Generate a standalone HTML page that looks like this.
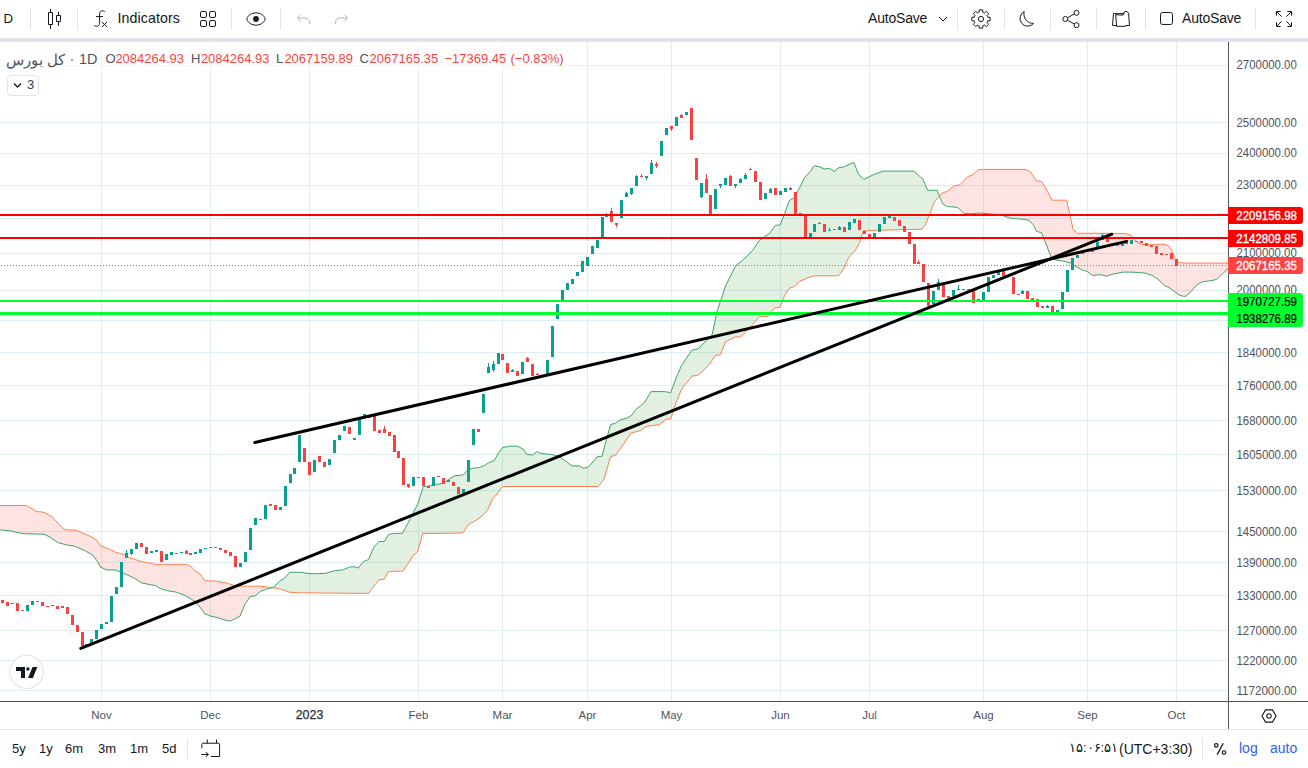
<!DOCTYPE html>
<html><head><meta charset="utf-8"><title>Chart</title>
<style>
html,body{margin:0;padding:0;background:#fff;}
body{width:1308px;height:768px;position:relative;overflow:hidden;font-family:"Liberation Sans",sans-serif;color:#131722;}
.t{position:absolute;white-space:nowrap;line-height:1;}
</style></head><body>
<svg width="1308" height="768" viewBox="0 0 1308 768" style="position:absolute;left:0;top:0">
<defs><clipPath id="pane"><rect x="0" y="42" width="1228" height="659"/></clipPath></defs>
<g clip-path="url(#pane)">
<rect x="0" y="65" width="1228" height="1" fill="#dfedf2"/>
<rect x="0" y="122" width="1228" height="1" fill="#dfedf2"/>
<rect x="0" y="153" width="1228" height="1" fill="#dfedf2"/>
<rect x="0" y="185" width="1228" height="1" fill="#dfedf2"/>
<rect x="0" y="218" width="1228" height="1" fill="#dfedf2"/>
<rect x="0" y="253" width="1228" height="1" fill="#dfedf2"/>
<rect x="0" y="290" width="1228" height="1" fill="#dfedf2"/>
<rect x="0" y="320" width="1228" height="1" fill="#dfedf2"/>
<rect x="0" y="352" width="1228" height="1" fill="#dfedf2"/>
<rect x="0" y="385" width="1228" height="1" fill="#dfedf2"/>
<rect x="0" y="420" width="1228" height="1" fill="#dfedf2"/>
<rect x="0" y="454" width="1228" height="1" fill="#dfedf2"/>
<rect x="0" y="490" width="1228" height="1" fill="#dfedf2"/>
<rect x="0" y="531" width="1228" height="1" fill="#dfedf2"/>
<rect x="0" y="562" width="1228" height="1" fill="#dfedf2"/>
<rect x="0" y="595" width="1228" height="1" fill="#dfedf2"/>
<rect x="0" y="630" width="1228" height="1" fill="#dfedf2"/>
<rect x="0" y="660" width="1228" height="1" fill="#dfedf2"/>
<rect x="0" y="690" width="1228" height="1" fill="#dfedf2"/>
<rect x="101" y="42" width="1" height="659" fill="#dfedf2"/>
<rect x="210" y="42" width="1" height="659" fill="#dfedf2"/>
<rect x="309" y="42" width="1" height="659" fill="#dfedf2"/>
<rect x="418" y="42" width="1" height="659" fill="#dfedf2"/>
<rect x="502" y="42" width="1" height="659" fill="#dfedf2"/>
<rect x="587" y="42" width="1" height="659" fill="#dfedf2"/>
<rect x="671" y="42" width="1" height="659" fill="#dfedf2"/>
<rect x="780" y="42" width="1" height="659" fill="#dfedf2"/>
<rect x="869" y="42" width="1" height="659" fill="#dfedf2"/>
<rect x="983" y="42" width="1" height="659" fill="#dfedf2"/>
<rect x="1087" y="42" width="1" height="659" fill="#dfedf2"/>
<rect x="1176" y="42" width="1" height="659" fill="#dfedf2"/>
<g opacity="1"><polygon points="0.0,529.8 11.0,531.0 22.1,533.6 26.5,533.7 36.5,534.0 44.2,534.2 50.9,537.6 53.0,539.1 57.5,542.4 63.0,543.9 66.4,544.9 75.2,546.4 76.3,546.9 84.0,550.2 93.0,555.3 97.3,561.3 98.5,563.0 100.0,566.7 106.1,569.8 110.7,570.0 115.3,570.1 119.9,571.7 125.2,574.0 126.0,574.3 129.8,576.1 135.0,578.5 135.2,578.6 140.5,582.2 141.6,582.9 150.4,584.7 155.0,585.5 155.5,585.6 161.1,588.9 167.7,590.7 176.5,592.2 184.3,595.1 186.4,596.3 190.2,598.4 190.9,598.8 194.8,601.6 196.5,602.8 200.0,607.3 200.9,608.4 204.9,613.9 210.8,616.1 216.4,617.4 218.6,617.9 225.2,620.1 226.3,620.4 229.6,621.2 234.1,619.3 234.7,619.0 240.0,616.1 242.9,609.2 245.1,603.9 250.2,596.6 255.1,595.8 260.6,591.3 266.2,589.1 272.5,587.6 272.5,587.6 266.2,586.9 260.6,586.2 255.1,586.2 250.2,586.2 245.1,586.2 242.9,586.2 240.0,586.0 234.7,585.6 234.1,585.6 229.6,584.0 226.3,582.9 225.2,582.7 218.6,581.6 216.4,581.2 210.8,581.0 204.9,580.7 200.9,575.2 200.0,574.0 196.5,571.6 194.8,570.5 190.9,566.6 190.2,565.9 186.4,564.4 184.3,564.4 176.5,564.4 167.7,564.3 161.1,564.3 155.5,564.3 155.0,564.3 150.4,563.3 141.6,561.5 140.5,561.3 135.2,559.4 135.0,559.3 129.8,557.9 126.0,555.3 125.2,554.8 119.9,553.4 115.3,552.2 110.7,549.5 106.1,547.9 100.0,545.7 98.5,543.0 97.3,540.9 93.0,537.6 84.0,533.6 76.3,530.3 75.2,530.2 66.4,529.8 63.0,528.7 57.5,522.7 53.0,517.7 50.9,516.4 44.2,512.3 36.5,511.5 26.5,505.5 22.1,505.5 11.0,505.5 0.0,505.5" fill="rgba(244,67,54,0.15)"/>
<polygon points="272.5,587.6 273.9,587.3 279.4,581.2 282.7,579.5 283.8,578.9 289.4,572.7 289.8,572.3 300.4,572.3 310.0,573.6 313.9,573.8 325.6,573.3 334.7,570.7 342.5,569.9 350.4,566.8 354.3,566.8 358.2,568.1 363.4,561.6 368.6,559.5 373.8,547.2 379.0,541.5 384.2,541.5 388.1,535.4 388.9,534.2 394.7,533.4 402.5,533.4 407.7,523.5 410.3,518.6 412.9,513.5 417.6,504.2 422.8,488.3 423.3,486.8 428.5,486.0 436.4,484.7 440.0,483.9 443.7,483.2 449.1,479.1 454.6,475.8 462.8,475.0 468.3,469.5 473.8,468.1 475.1,468.0 479.2,467.6 482.0,466.5 484.7,465.4 487.4,463.6 488.8,462.7 492.9,461.1 494.3,460.5 497.0,455.6 498.4,453.1 502.5,447.6 509.3,446.2 517.5,446.2 523.0,449.0 527.1,454.5 532.6,455.0 536.7,451.7 540.8,453.1 544.9,453.9 551.7,454.5 558.6,456.4 564.0,459.9 572.2,465.9 579.1,465.9 583.2,468.1 587.3,467.6 590.0,465.4 596.9,456.9 598.0,456.7 602.0,456.2 603.7,449.9 610.5,424.7 615.5,423.0 620.6,419.7 624.0,418.9 627.4,418.0 630.8,415.7 632.5,414.6 635.8,409.5 640.9,405.4 644.3,402.7 646.0,399.9 651.1,391.6 659.5,391.6 664.6,391.6 666.3,391.9 670.7,392.6 674.8,381.7 676.4,377.4 681.5,365.5 691.7,350.3 698.4,348.6 706.9,340.1 708.6,338.4 712.0,335.1 715.4,319.3 717.1,311.4 720.4,301.4 725.5,286.0 735.7,265.7 740.7,261.9 742.4,260.6 745.8,257.2 750.9,252.2 752.6,250.5 759.4,240.3 765.0,236.5 767.8,234.6 769.5,233.5 774.6,226.5 775.5,225.3 780.0,225.0 780.2,225.0 784.7,213.3 789.4,200.4 794.1,198.0 798.7,189.5 799.9,187.2 800.0,187.0 804.3,178.0 808.1,174.0 810.4,171.5 813.5,166.3 814.0,166.0 814.5,165.7 819.5,166.8 824.2,169.0 829.3,168.2 834.0,171.3 838.6,167.9 839.0,167.6 843.3,167.1 849.1,164.4 853.8,162.2 855.0,165.4 858.5,174.6 859.7,175.6 863.2,178.7 863.9,179.3 873.7,174.6 883.1,171.1 913.6,171.1 921.8,178.3 923.0,179.3 925.3,184.8 927.6,190.3 930.0,190.3 934.7,190.3 937.0,190.3 939.4,196.1 939.4,196.1 937.0,198.9 934.7,201.6 930.0,213.3 927.6,219.3 925.3,225.0 923.0,227.8 921.8,229.2 913.6,229.4 883.1,230.2 873.7,230.4 863.9,230.9 863.2,230.9 859.7,242.6 858.5,244.7 855.0,250.8 853.8,252.0 849.1,256.6 843.3,269.5 839.0,275.3 838.6,275.8 834.0,275.8 829.3,275.8 824.2,275.8 819.5,275.8 814.5,275.8 814.0,275.8 813.5,276.0 810.4,277.0 808.1,277.7 804.3,279.3 800.0,281.2 799.9,281.2 798.7,282.3 794.1,286.6 789.4,288.3 784.7,295.3 780.2,306.8 780.0,307.3 775.5,307.9 774.6,308.0 769.5,314.3 767.8,316.4 765.0,316.4 759.4,316.4 752.6,324.6 750.9,326.6 745.8,331.7 742.4,335.1 740.7,336.8 735.7,336.8 725.5,341.8 720.4,354.7 717.1,355.2 715.4,355.4 712.0,360.4 708.6,365.5 706.9,367.1 698.4,375.0 691.7,376.3 681.5,389.2 676.4,402.1 674.8,406.1 670.7,419.0 666.3,419.0 664.6,420.4 659.5,424.7 651.1,425.8 646.0,426.4 644.3,427.8 640.9,430.5 635.8,431.9 632.5,432.7 630.8,433.2 627.4,438.3 624.0,443.4 620.6,448.1 615.5,455.2 610.5,456.9 603.7,479.9 602.0,481.9 598.0,486.5 596.9,486.5 590.0,486.5 587.3,486.5 583.2,486.5 579.1,486.5 572.2,486.5 564.0,486.5 558.6,486.5 551.7,486.5 544.9,486.5 540.8,486.5 536.7,486.5 532.6,486.5 527.1,486.5 523.0,486.5 517.5,486.5 509.3,486.5 502.5,486.5 498.4,492.2 497.0,494.1 494.3,496.8 492.9,498.2 488.8,507.4 487.4,510.5 484.7,513.2 482.0,516.0 479.2,518.0 475.1,520.9 473.8,521.6 468.3,524.7 462.8,533.0 454.6,533.1 449.1,533.2 443.7,533.3 440.0,533.4 436.4,533.4 428.5,533.4 423.3,533.4 422.8,533.4 417.6,551.7 412.9,555.8 410.3,560.0 407.7,564.2 402.5,571.2 394.7,571.2 388.9,571.9 388.1,572.0 384.2,579.3 379.0,579.8 373.8,586.3 368.6,593.4 363.4,593.4 358.2,593.3 354.3,593.3 350.4,593.2 342.5,593.2 334.7,593.1 325.6,593.0 313.9,592.9 310.0,592.9 300.4,592.9 289.8,592.2 289.4,592.2 283.8,590.0 282.7,589.6 279.4,588.9 273.9,587.8 272.5,587.6" fill="rgba(67,160,71,0.16)"/>
<polygon points="939.4,196.1 941.7,201.5 942.7,203.9 947.5,206.6 947.6,206.6 953.4,206.9 955.0,207.0 958.5,208.0 960.0,209.5 962.0,211.5 963.5,213.1 967.7,213.5 970.8,213.8 972.9,213.6 978.1,213.2 979.2,213.1 983.3,213.4 989.6,213.8 1002.1,215.2 1010.4,218.3 1020.8,219.0 1025.0,219.6 1028.1,220.0 1030.2,221.9 1033.3,224.6 1036.5,231.3 1041.7,232.9 1045.8,243.3 1046.9,246.2 1051.0,256.9 1052.1,257.8 1054.2,259.6 1062.5,261.0 1066.7,262.1 1069.8,262.8 1070.8,263.1 1072.9,264.5 1077.1,267.3 1083.3,270.4 1087.5,271.5 1092.7,275.6 1100.0,274.6 1107.0,276.2 1111.1,274.5 1116.9,273.3 1122.8,272.1 1125.1,272.1 1129.8,272.1 1131.0,272.1 1132.2,272.2 1134.5,272.3 1138.0,272.4 1139.2,272.5 1141.5,272.8 1146.2,273.3 1147.4,273.8 1152.1,275.5 1153.3,276.0 1156.8,278.4 1157.9,279.2 1163.8,285.0 1168.5,287.3 1169.7,287.9 1171.4,289.2 1173.2,290.6 1174.3,291.5 1174.9,291.9 1177.3,293.7 1179.0,295.0 1181.4,295.7 1183.7,296.4 1186.1,296.1 1187.2,295.1 1190.8,291.7 1196.6,285.0 1201.3,282.1 1207.2,281.2 1214.2,280.1 1217.7,278.6 1222.4,273.9 1228.0,268.8 1228.0,263.1 1222.4,263.1 1217.7,263.1 1214.2,263.1 1207.2,263.1 1201.3,263.1 1196.6,263.1 1190.8,263.1 1187.2,263.1 1186.1,263.0 1183.7,262.9 1181.4,262.8 1179.0,262.1 1177.3,261.6 1174.9,258.7 1174.3,257.0 1173.2,254.0 1171.4,249.3 1169.7,247.2 1168.5,245.8 1163.8,244.3 1157.9,244.3 1156.8,244.3 1153.3,244.7 1152.1,244.8 1147.4,244.6 1146.2,244.5 1141.5,244.3 1139.2,243.3 1138.0,242.8 1134.5,239.9 1132.2,236.4 1131.0,235.7 1129.8,235.0 1125.1,233.5 1122.8,233.5 1116.9,233.4 1111.1,233.4 1107.0,233.4 1100.0,233.3 1092.7,233.3 1087.5,233.3 1083.3,233.3 1077.1,233.3 1072.9,228.8 1070.8,218.9 1069.8,214.2 1066.7,200.2 1062.5,200.2 1054.2,200.2 1052.1,200.2 1051.0,198.1 1046.9,190.2 1045.8,188.4 1041.7,181.5 1036.5,180.8 1033.3,176.1 1030.2,171.5 1028.1,170.7 1025.0,169.4 1020.8,169.4 1010.4,169.4 1002.1,169.4 989.6,169.4 983.3,169.4 979.2,169.7 978.1,169.8 972.9,174.6 970.8,175.4 967.7,176.7 963.5,181.1 962.0,182.6 960.0,184.7 958.5,185.1 955.0,185.9 953.4,186.3 947.6,191.0 947.5,191.0 942.7,193.0 941.7,193.4 939.4,196.1" fill="rgba(244,67,54,0.15)"/></g>
<polyline points="0.0,505.5 26.5,505.5 36.5,511.5 44.2,512.3 53.0,517.7 63.0,528.7 66.4,529.8 76.3,530.3 84.0,533.6 93.0,537.6 97.3,540.9 100.0,545.7 110.7,549.5 115.3,552.2 125.2,554.8 129.8,557.9 135.2,559.4 140.5,561.3 155.0,564.3 186.4,564.4 190.2,565.9 194.8,570.5 200.0,574.0 204.9,580.7 216.4,581.2 226.3,582.9 234.1,585.6 242.9,586.2 260.6,586.2 273.9,587.8 282.7,589.6 289.4,592.2 300.4,592.9 310.0,592.9 368.6,593.4 373.8,586.3 379.0,579.8 384.2,579.3 388.1,572.0 394.7,571.2 402.5,571.2 407.7,564.2 412.9,555.8 417.6,551.7 422.8,533.4 440.0,533.4 462.8,533.0 468.3,524.7 475.1,520.9 482.0,516.0 487.4,510.5 492.9,498.2 497.0,494.1 502.5,486.5 590.0,486.5 598.0,486.5 603.7,479.9 610.5,456.9 615.5,455.2 624.0,443.4 630.8,433.2 640.9,430.5 646.0,426.4 659.5,424.7 666.3,419.0 670.7,419.0 674.8,406.1 681.5,389.2 691.7,376.3 698.4,375.0 708.6,365.5 715.4,355.4 720.4,354.7 725.5,341.8 735.7,336.8 740.7,336.8 745.8,331.7 750.9,326.6 759.4,316.4 767.8,316.4 774.6,308.0 780.0,307.3 784.7,295.3 789.4,288.3 794.1,286.6 799.9,281.2 808.1,277.7 814.0,275.8 838.6,275.8 843.3,269.5 849.1,256.6 855.0,250.8 859.7,242.6 863.2,230.9 873.7,230.4 921.8,229.2 925.3,225.0 930.0,213.3 934.7,201.6 941.7,193.4 947.6,191.0 953.4,186.3 960.0,184.7 967.7,176.7 972.9,174.6 978.1,169.8 983.3,169.4 1025.0,169.4 1030.2,171.5 1036.5,180.8 1041.7,181.5 1046.9,190.2 1052.1,200.2 1066.7,200.2 1069.8,214.2 1072.9,228.8 1077.1,233.3 1100.0,233.3 1125.1,233.5 1129.8,235.0 1132.2,236.4 1134.5,239.9 1138.0,242.8 1141.5,244.3 1147.4,244.6 1152.1,244.8 1156.8,244.3 1163.8,244.3 1168.5,245.8 1171.4,249.3 1173.2,254.0 1174.9,258.7 1177.3,261.6 1181.4,262.8 1187.2,263.1 1228.2,263.1" fill="none" stroke="#ff7f50" stroke-width="1" stroke-linejoin="round"/>
<polyline points="0.0,529.8 11.0,531.0 22.1,533.6 44.2,534.2 50.9,537.6 57.5,542.4 66.4,544.9 75.2,546.4 84.0,550.2 93.0,555.3 98.5,563.0 100.0,566.7 106.1,569.8 115.3,570.1 119.9,571.7 126.0,574.3 135.0,578.5 141.6,582.9 150.4,584.7 155.5,585.6 161.1,588.9 167.7,590.7 176.5,592.2 184.3,595.1 190.9,598.8 196.5,602.8 200.9,608.4 204.9,613.9 210.8,616.1 218.6,617.9 225.2,620.1 229.6,621.2 234.7,619.0 240.0,616.1 245.1,603.9 250.2,596.6 255.1,595.8 260.6,591.3 266.2,589.1 273.9,587.3 279.4,581.2 283.8,578.9 289.8,572.3 300.4,572.3 310.0,573.6 313.9,573.8 325.6,573.3 334.7,570.7 342.5,569.9 350.4,566.8 354.3,566.8 358.2,568.1 363.4,561.6 368.6,559.5 373.8,547.2 379.0,541.5 384.2,541.5 388.9,534.2 394.7,533.4 402.5,533.4 410.3,518.6 417.6,504.2 423.3,486.8 428.5,486.0 436.4,484.7 440.0,483.9 443.7,483.2 449.1,479.1 454.6,475.8 462.8,475.0 468.3,469.5 473.8,468.1 479.2,467.6 484.7,465.4 488.8,462.7 494.3,460.5 498.4,453.1 502.5,447.6 509.3,446.2 517.5,446.2 523.0,449.0 527.1,454.5 532.6,455.0 536.7,451.7 540.8,453.1 544.9,453.9 551.7,454.5 558.6,456.4 564.0,459.9 572.2,465.9 579.1,465.9 583.2,468.1 587.3,467.6 590.0,465.4 596.9,456.9 602.0,456.2 610.5,424.7 615.5,423.0 620.6,419.7 627.4,418.0 632.5,414.6 635.8,409.5 644.3,402.7 651.1,391.6 664.6,391.6 670.7,392.6 676.4,377.4 681.5,365.5 691.7,350.3 698.4,348.6 706.9,340.1 712.0,335.1 717.1,311.4 725.5,286.0 735.7,265.7 742.4,260.6 752.6,250.5 759.4,240.3 765.0,236.5 769.5,233.5 775.5,225.3 780.2,225.0 784.7,213.3 789.4,200.4 794.1,198.0 798.7,189.5 800.0,187.0 804.3,178.0 810.4,171.5 813.5,166.3 814.5,165.7 819.5,166.8 824.2,169.0 829.3,168.2 834.0,171.3 839.0,167.6 843.3,167.1 853.8,162.2 858.5,174.6 863.9,179.3 873.7,174.6 883.1,171.1 913.6,171.1 923.0,179.3 927.6,190.3 937.0,190.3 942.7,203.9 947.5,206.6 955.0,207.0 958.5,208.0 962.0,211.5 963.5,213.1 970.8,213.8 979.2,213.1 989.6,213.8 1002.1,215.2 1010.4,218.3 1020.8,219.0 1028.1,220.0 1033.3,224.6 1036.5,231.3 1041.7,232.9 1045.8,243.3 1051.0,256.9 1054.2,259.6 1062.5,261.0 1070.8,263.1 1077.1,267.3 1083.3,270.4 1087.5,271.5 1092.7,275.6 1100.0,274.6 1107.0,276.2 1111.1,274.5 1116.9,273.3 1122.8,272.1 1131.0,272.1 1139.2,272.5 1146.2,273.3 1153.3,276.0 1157.9,279.2 1163.8,285.0 1169.7,287.9 1174.3,291.5 1179.0,295.0 1183.7,296.4 1186.1,296.1 1190.8,291.7 1196.6,285.0 1201.3,282.1 1207.2,281.2 1214.2,280.1 1217.7,278.6 1222.4,273.9 1228.2,268.6" fill="none" stroke="#3fa36b" stroke-width="1" stroke-linejoin="round"/>
<rect x="0" y="42" width="569" height="31" fill="#ffffff" opacity="0.5"/>
<rect x="1" y="600" width="3" height="3" fill="#fe3f3f"/>
<rect x="6" y="602" width="3" height="4" fill="#fe3f3f"/>
<rect x="11" y="603" width="3" height="1" fill="#06a191"/>
<rect x="16" y="603" width="3" height="8" fill="#fe3f3f"/>
<rect x="21" y="610" width="3" height="1" fill="#fe3f3f"/>
<rect x="26" y="605" width="3" height="6" fill="#06a191"/>
<rect x="31" y="601" width="3" height="4" fill="#06a191"/>
<rect x="36" y="601" width="3" height="1" fill="#fe3f3f"/>
<rect x="41" y="602" width="3" height="4" fill="#fe3f3f"/>
<rect x="46" y="606" width="3" height="1" fill="#fe3f3f"/>
<rect x="51" y="605" width="3" height="1" fill="#06a191"/>
<rect x="56" y="606" width="3" height="3" fill="#fe3f3f"/>
<rect x="61" y="606" width="3" height="2" fill="#fe3f3f"/>
<rect x="66" y="607" width="3" height="7" fill="#fe3f3f"/>
<rect x="71" y="615" width="3" height="10" fill="#fe3f3f"/>
<rect x="76" y="625" width="3" height="7" fill="#fe3f3f"/>
<rect x="81" y="632" width="3" height="14" fill="#fe3f3f"/>
<rect x="85" y="644" width="3" height="2" fill="#06a191"/>
<rect x="90" y="639" width="3" height="4" fill="#06a191"/>
<rect x="95" y="630" width="3" height="9" fill="#06a191"/>
<rect x="100" y="624" width="3" height="5" fill="#06a191"/>
<rect x="105" y="622" width="3" height="2" fill="#06a191"/>
<rect x="110" y="596" width="3" height="26" fill="#06a191"/>
<rect x="115" y="587" width="3" height="7" fill="#06a191"/>
<rect x="120" y="562" width="3" height="25" fill="#06a191"/>
<rect x="125" y="553" width="3" height="5" fill="#06a191"/>
<rect x="126" y="550" width="1" height="3" fill="#06a191"/>
<rect x="130" y="549" width="3" height="5" fill="#06a191"/>
<rect x="131" y="549" width="1" height="6" fill="#06a191"/>
<rect x="135" y="543" width="3" height="6" fill="#06a191"/>
<rect x="140" y="543" width="3" height="4" fill="#fe3f3f"/>
<rect x="145" y="547" width="3" height="7" fill="#fe3f3f"/>
<rect x="150" y="551" width="3" height="2" fill="#06a191"/>
<rect x="155" y="550" width="3" height="2" fill="#06a191"/>
<rect x="160" y="551" width="3" height="11" fill="#fe3f3f"/>
<rect x="165" y="554" width="3" height="6" fill="#06a191"/>
<rect x="170" y="552" width="3" height="3" fill="#06a191"/>
<rect x="175" y="553" width="3" height="1" fill="#fe3f3f"/>
<rect x="180" y="552" width="3" height="1" fill="#06a191"/>
<rect x="185" y="551" width="3" height="3" fill="#fe3f3f"/>
<rect x="186" y="550" width="1" height="1" fill="#fe3f3f"/>
<rect x="189" y="553" width="3" height="2" fill="#fe3f3f"/>
<rect x="194" y="552" width="3" height="2" fill="#06a191"/>
<rect x="199" y="549" width="3" height="4" fill="#06a191"/>
<rect x="204" y="548" width="3" height="1" fill="#06a191"/>
<rect x="209" y="547" width="3" height="1" fill="#06a191"/>
<rect x="214" y="547" width="3" height="1" fill="#fe3f3f"/>
<rect x="219" y="548" width="3" height="2" fill="#fe3f3f"/>
<rect x="224" y="550" width="3" height="3" fill="#fe3f3f"/>
<rect x="229" y="552" width="3" height="4" fill="#fe3f3f"/>
<rect x="234" y="556" width="3" height="11" fill="#fe3f3f"/>
<rect x="239" y="563" width="3" height="4" fill="#06a191"/>
<rect x="244" y="552" width="3" height="10" fill="#06a191"/>
<rect x="249" y="528" width="3" height="22" fill="#06a191"/>
<rect x="254" y="518" width="3" height="7" fill="#06a191"/>
<rect x="259" y="519" width="3" height="1" fill="#fe3f3f"/>
<rect x="264" y="505" width="3" height="14" fill="#06a191"/>
<rect x="269" y="504" width="3" height="2" fill="#fe3f3f"/>
<rect x="274" y="505" width="3" height="5" fill="#fe3f3f"/>
<rect x="279" y="507" width="3" height="3" fill="#06a191"/>
<rect x="284" y="486" width="3" height="20" fill="#06a191"/>
<rect x="289" y="474" width="3" height="9" fill="#06a191"/>
<rect x="293" y="468" width="3" height="6" fill="#06a191"/>
<rect x="298" y="435" width="3" height="27" fill="#06a191"/>
<rect x="303" y="448" width="3" height="14" fill="#fe3f3f"/>
<rect x="308" y="462" width="3" height="13" fill="#fe3f3f"/>
<rect x="313" y="460" width="3" height="12" fill="#06a191"/>
<rect x="318" y="456" width="3" height="6" fill="#fe3f3f"/>
<rect x="319" y="456" width="1" height="6" fill="#fe3f3f"/>
<rect x="323" y="462" width="3" height="5" fill="#fe3f3f"/>
<rect x="328" y="459" width="3" height="6" fill="#06a191"/>
<rect x="333" y="440" width="3" height="13" fill="#06a191"/>
<rect x="338" y="435" width="3" height="5" fill="#06a191"/>
<rect x="343" y="426" width="3" height="5" fill="#06a191"/>
<rect x="348" y="427" width="3" height="7" fill="#fe3f3f"/>
<rect x="353" y="438" width="3" height="2" fill="#06a191"/>
<rect x="354" y="438" width="1" height="2" fill="#06a191"/>
<rect x="358" y="420" width="3" height="15" fill="#06a191"/>
<rect x="363" y="414" width="3" height="3" fill="#06a191"/>
<rect x="364" y="414" width="1" height="3" fill="#06a191"/>
<rect x="368" y="417" width="3" height="1" fill="#06a191"/>
<rect x="373" y="416" width="3" height="15" fill="#fe3f3f"/>
<rect x="378" y="430" width="3" height="3" fill="#fe3f3f"/>
<rect x="383" y="429" width="3" height="4" fill="#fe3f3f"/>
<rect x="384" y="426" width="1" height="7" fill="#fe3f3f"/>
<rect x="388" y="432" width="3" height="4" fill="#fe3f3f"/>
<rect x="393" y="435" width="3" height="17" fill="#fe3f3f"/>
<rect x="397" y="451" width="3" height="7" fill="#fe3f3f"/>
<rect x="402" y="458" width="3" height="27" fill="#fe3f3f"/>
<rect x="407" y="484" width="3" height="3" fill="#fe3f3f"/>
<rect x="408" y="484" width="1" height="4" fill="#fe3f3f"/>
<rect x="412" y="477" width="3" height="9" fill="#06a191"/>
<rect x="417" y="477" width="3" height="1" fill="#fe3f3f"/>
<rect x="422" y="477" width="3" height="9" fill="#fe3f3f"/>
<rect x="427" y="486" width="3" height="2" fill="#fe3f3f"/>
<rect x="432" y="477" width="3" height="9" fill="#06a191"/>
<rect x="437" y="476" width="3" height="1" fill="#fe3f3f"/>
<rect x="438" y="476" width="1" height="1" fill="#fe3f3f"/>
<rect x="442" y="478" width="3" height="6" fill="#fe3f3f"/>
<rect x="447" y="480" width="3" height="2" fill="#06a191"/>
<rect x="452" y="482" width="3" height="4" fill="#fe3f3f"/>
<rect x="457" y="487" width="3" height="7" fill="#fe3f3f"/>
<rect x="462" y="489" width="3" height="4" fill="#06a191"/>
<rect x="467" y="460" width="3" height="22" fill="#06a191"/>
<rect x="472" y="429" width="3" height="16" fill="#06a191"/>
<rect x="477" y="429" width="3" height="3" fill="#fe3f3f"/>
<rect x="482" y="394" width="3" height="19" fill="#06a191"/>
<rect x="487" y="367" width="3" height="6" fill="#06a191"/>
<rect x="488" y="363" width="1" height="10" fill="#06a191"/>
<rect x="492" y="364" width="3" height="6" fill="#06a191"/>
<rect x="493" y="361" width="1" height="11" fill="#06a191"/>
<rect x="497" y="353" width="3" height="11" fill="#06a191"/>
<rect x="501" y="354" width="3" height="6" fill="#fe3f3f"/>
<rect x="506" y="363" width="3" height="10" fill="#fe3f3f"/>
<rect x="511" y="370" width="3" height="2" fill="#06a191"/>
<rect x="512" y="369" width="1" height="3" fill="#06a191"/>
<rect x="516" y="371" width="3" height="5" fill="#fe3f3f"/>
<rect x="521" y="362" width="3" height="12" fill="#06a191"/>
<rect x="526" y="358" width="3" height="4" fill="#fe3f3f"/>
<rect x="527" y="357" width="1" height="5" fill="#fe3f3f"/>
<rect x="531" y="364" width="3" height="12" fill="#fe3f3f"/>
<rect x="536" y="374" width="3" height="1" fill="#fe3f3f"/>
<rect x="537" y="373" width="1" height="2" fill="#fe3f3f"/>
<rect x="541" y="375" width="3" height="1" fill="#06a191"/>
<rect x="546" y="360" width="3" height="14" fill="#06a191"/>
<rect x="551" y="326" width="3" height="31" fill="#06a191"/>
<rect x="556" y="304" width="3" height="15" fill="#06a191"/>
<rect x="561" y="290" width="3" height="10" fill="#06a191"/>
<rect x="566" y="283" width="3" height="7" fill="#06a191"/>
<rect x="571" y="279" width="3" height="5" fill="#06a191"/>
<rect x="576" y="272" width="3" height="4" fill="#06a191"/>
<rect x="581" y="261" width="3" height="11" fill="#06a191"/>
<rect x="586" y="257" width="3" height="9" fill="#06a191"/>
<rect x="591" y="246" width="3" height="8" fill="#06a191"/>
<rect x="596" y="240" width="3" height="8" fill="#06a191"/>
<rect x="601" y="217" width="3" height="20" fill="#06a191"/>
<rect x="605" y="214" width="3" height="3" fill="#06a191"/>
<rect x="606" y="213" width="1" height="4" fill="#06a191"/>
<rect x="610" y="211" width="3" height="11" fill="#fe3f3f"/>
<rect x="611" y="208" width="1" height="14" fill="#fe3f3f"/>
<rect x="615" y="223" width="3" height="2" fill="#fe3f3f"/>
<rect x="616" y="223" width="1" height="4" fill="#fe3f3f"/>
<rect x="620" y="200" width="3" height="18" fill="#06a191"/>
<rect x="625" y="193" width="3" height="4" fill="#06a191"/>
<rect x="626" y="192" width="1" height="5" fill="#06a191"/>
<rect x="630" y="188" width="3" height="6" fill="#06a191"/>
<rect x="631" y="188" width="1" height="7" fill="#06a191"/>
<rect x="635" y="176" width="3" height="10" fill="#06a191"/>
<rect x="636" y="175" width="1" height="11" fill="#06a191"/>
<rect x="640" y="176" width="3" height="1" fill="#fe3f3f"/>
<rect x="641" y="174" width="1" height="3" fill="#fe3f3f"/>
<rect x="645" y="176" width="3" height="2" fill="#06a191"/>
<rect x="646" y="176" width="1" height="4" fill="#06a191"/>
<rect x="650" y="163" width="3" height="11" fill="#06a191"/>
<rect x="651" y="160" width="1" height="14" fill="#06a191"/>
<rect x="655" y="164" width="3" height="2" fill="#fe3f3f"/>
<rect x="656" y="162" width="1" height="6" fill="#fe3f3f"/>
<rect x="660" y="141" width="3" height="15" fill="#06a191"/>
<rect x="665" y="128" width="3" height="7" fill="#06a191"/>
<rect x="670" y="126" width="3" height="3" fill="#fe3f3f"/>
<rect x="671" y="126" width="1" height="5" fill="#fe3f3f"/>
<rect x="675" y="117" width="3" height="9" fill="#06a191"/>
<rect x="680" y="115" width="3" height="3" fill="#fe3f3f"/>
<rect x="681" y="114" width="1" height="4" fill="#fe3f3f"/>
<rect x="685" y="112" width="3" height="3" fill="#06a191"/>
<rect x="690" y="108" width="3" height="32" fill="#fe3f3f"/>
<rect x="695" y="158" width="3" height="22" fill="#fe3f3f"/>
<rect x="700" y="183" width="3" height="14" fill="#06a191"/>
<rect x="701" y="183" width="1" height="15" fill="#06a191"/>
<rect x="705" y="179" width="3" height="14" fill="#fe3f3f"/>
<rect x="706" y="174" width="1" height="19" fill="#fe3f3f"/>
<rect x="709" y="195" width="3" height="19" fill="#fe3f3f"/>
<rect x="714" y="189" width="3" height="20" fill="#06a191"/>
<rect x="719" y="184" width="3" height="2" fill="#06a191"/>
<rect x="720" y="184" width="1" height="4" fill="#06a191"/>
<rect x="724" y="178" width="3" height="7" fill="#06a191"/>
<rect x="729" y="176" width="3" height="10" fill="#fe3f3f"/>
<rect x="730" y="175" width="1" height="11" fill="#fe3f3f"/>
<rect x="734" y="184" width="3" height="2" fill="#06a191"/>
<rect x="735" y="184" width="1" height="4" fill="#06a191"/>
<rect x="739" y="179" width="3" height="4" fill="#06a191"/>
<rect x="740" y="178" width="1" height="5" fill="#06a191"/>
<rect x="744" y="175" width="3" height="4" fill="#06a191"/>
<rect x="745" y="173" width="1" height="6" fill="#06a191"/>
<rect x="749" y="169" width="3" height="1" fill="#fe3f3f"/>
<rect x="750" y="168" width="1" height="2" fill="#fe3f3f"/>
<rect x="754" y="171" width="3" height="11" fill="#fe3f3f"/>
<rect x="759" y="182" width="3" height="18" fill="#fe3f3f"/>
<rect x="764" y="193" width="3" height="6" fill="#06a191"/>
<rect x="769" y="189" width="3" height="4" fill="#06a191"/>
<rect x="770" y="188" width="1" height="5" fill="#06a191"/>
<rect x="774" y="188" width="3" height="7" fill="#fe3f3f"/>
<rect x="779" y="191" width="3" height="4" fill="#06a191"/>
<rect x="784" y="188" width="3" height="4" fill="#06a191"/>
<rect x="789" y="188" width="3" height="2" fill="#fe3f3f"/>
<rect x="790" y="187" width="1" height="3" fill="#fe3f3f"/>
<rect x="794" y="192" width="3" height="22" fill="#fe3f3f"/>
<rect x="799" y="213" width="3" height="1" fill="#fe3f3f"/>
<rect x="804" y="216" width="3" height="21" fill="#fe3f3f"/>
<rect x="809" y="233" width="3" height="4" fill="#06a191"/>
<rect x="813" y="224" width="3" height="8" fill="#06a191"/>
<rect x="818" y="223" width="3" height="1" fill="#fe3f3f"/>
<rect x="819" y="222" width="1" height="2" fill="#fe3f3f"/>
<rect x="823" y="224" width="3" height="8" fill="#fe3f3f"/>
<rect x="828" y="230" width="3" height="1" fill="#06a191"/>
<rect x="829" y="228" width="1" height="3" fill="#06a191"/>
<rect x="833" y="229" width="3" height="1" fill="#06a191"/>
<rect x="838" y="227" width="3" height="3" fill="#06a191"/>
<rect x="839" y="226" width="1" height="4" fill="#06a191"/>
<rect x="843" y="227" width="3" height="5" fill="#fe3f3f"/>
<rect x="848" y="222" width="3" height="8" fill="#06a191"/>
<rect x="853" y="219" width="3" height="4" fill="#06a191"/>
<rect x="858" y="220" width="3" height="10" fill="#fe3f3f"/>
<rect x="863" y="231" width="3" height="3" fill="#fe3f3f"/>
<rect x="868" y="234" width="3" height="4" fill="#fe3f3f"/>
<rect x="873" y="233" width="3" height="4" fill="#06a191"/>
<rect x="878" y="224" width="3" height="8" fill="#06a191"/>
<rect x="883" y="217" width="3" height="7" fill="#06a191"/>
<rect x="888" y="216" width="3" height="2" fill="#06a191"/>
<rect x="889" y="215" width="1" height="3" fill="#06a191"/>
<rect x="893" y="217" width="3" height="4" fill="#fe3f3f"/>
<rect x="898" y="220" width="3" height="6" fill="#fe3f3f"/>
<rect x="903" y="226" width="3" height="6" fill="#fe3f3f"/>
<rect x="908" y="232" width="3" height="12" fill="#fe3f3f"/>
<rect x="913" y="244" width="3" height="20" fill="#fe3f3f"/>
<rect x="917" y="262" width="3" height="2" fill="#fe3f3f"/>
<rect x="918" y="260" width="1" height="4" fill="#fe3f3f"/>
<rect x="922" y="264" width="3" height="18" fill="#fe3f3f"/>
<rect x="927" y="283" width="3" height="23" fill="#fe3f3f"/>
<rect x="932" y="291" width="3" height="13" fill="#06a191"/>
<rect x="937" y="282" width="3" height="8" fill="#06a191"/>
<rect x="938" y="279" width="1" height="3" fill="#06a191"/>
<rect x="942" y="285" width="3" height="12" fill="#fe3f3f"/>
<rect x="947" y="296" width="3" height="2" fill="#fe3f3f"/>
<rect x="952" y="290" width="3" height="6" fill="#06a191"/>
<rect x="957" y="289" width="3" height="1" fill="#06a191"/>
<rect x="958" y="285" width="1" height="4" fill="#06a191"/>
<rect x="962" y="289" width="3" height="1" fill="#fe3f3f"/>
<rect x="967" y="289" width="3" height="1" fill="#fe3f3f"/>
<rect x="972" y="291" width="3" height="12" fill="#fe3f3f"/>
<rect x="977" y="299" width="3" height="1" fill="#06a191"/>
<rect x="982" y="292" width="3" height="8" fill="#06a191"/>
<rect x="987" y="277" width="3" height="15" fill="#06a191"/>
<rect x="992" y="275" width="3" height="3" fill="#06a191"/>
<rect x="997" y="272" width="3" height="3" fill="#06a191"/>
<rect x="1002" y="271" width="3" height="5" fill="#fe3f3f"/>
<rect x="1007" y="276" width="3" height="1" fill="#fe3f3f"/>
<rect x="1012" y="277" width="3" height="17" fill="#fe3f3f"/>
<rect x="1017" y="294" width="3" height="1" fill="#fe3f3f"/>
<rect x="1021" y="291" width="3" height="3" fill="#06a191"/>
<rect x="1022" y="290" width="1" height="3" fill="#06a191"/>
<rect x="1026" y="291" width="3" height="8" fill="#fe3f3f"/>
<rect x="1031" y="298" width="3" height="2" fill="#fe3f3f"/>
<rect x="1032" y="298" width="1" height="2" fill="#fe3f3f"/>
<rect x="1036" y="299" width="3" height="8" fill="#fe3f3f"/>
<rect x="1041" y="306" width="3" height="2" fill="#fe3f3f"/>
<rect x="1046" y="306" width="3" height="2" fill="#06a191"/>
<rect x="1047" y="305" width="1" height="2" fill="#06a191"/>
<rect x="1051" y="306" width="3" height="6" fill="#fe3f3f"/>
<rect x="1056" y="310" width="3" height="2" fill="#06a191"/>
<rect x="1061" y="292" width="3" height="17" fill="#06a191"/>
<rect x="1066" y="270" width="3" height="22" fill="#06a191"/>
<rect x="1071" y="258" width="3" height="12" fill="#06a191"/>
<rect x="1072" y="258" width="1" height="12" fill="#06a191"/>
<rect x="1076" y="255" width="3" height="3" fill="#06a191"/>
<rect x="1081" y="253" width="3" height="1" fill="#06a191"/>
<rect x="1086" y="250" width="3" height="2" fill="#06a191"/>
<rect x="1091" y="251" width="3" height="1" fill="#06a191"/>
<rect x="1096" y="242" width="3" height="7" fill="#06a191"/>
<rect x="1101" y="235" width="3" height="5" fill="#06a191"/>
<rect x="1102" y="233" width="1" height="7" fill="#06a191"/>
<rect x="1106" y="239" width="3" height="3" fill="#fe3f3f"/>
<rect x="1111" y="243" width="3" height="1" fill="#fe3f3f"/>
<rect x="1116" y="245" width="3" height="1" fill="#fe3f3f"/>
<rect x="1121" y="244" width="3" height="2" fill="#06a191"/>
<rect x="1125" y="243" width="3" height="1" fill="#fe3f3f"/>
<rect x="1130" y="240" width="3" height="4" fill="#06a191"/>
<rect x="1135" y="241" width="3" height="1" fill="#fe3f3f"/>
<rect x="1140" y="241" width="3" height="2" fill="#fe3f3f"/>
<rect x="1145" y="243" width="3" height="3" fill="#fe3f3f"/>
<rect x="1150" y="245" width="3" height="2" fill="#fe3f3f"/>
<rect x="1155" y="246" width="3" height="8" fill="#fe3f3f"/>
<rect x="1160" y="253" width="3" height="2" fill="#fe3f3f"/>
<rect x="1165" y="254" width="3" height="1" fill="#fe3f3f"/>
<rect x="1170" y="253" width="3" height="6" fill="#fe3f3f"/>
<rect x="1175" y="259" width="3" height="7" fill="#fe3f3f"/>
<rect x="0" y="214" width="1228" height="2" fill="#ff0000"/>
<rect x="0" y="237" width="1228" height="2" fill="#ff0000"/>
<line x1="1" y1="265.5" x2="1228" y2="265.5" stroke="#ff4040" stroke-width="1" stroke-dasharray="1 2"/>
<rect x="0" y="300" width="1228" height="2" fill="#00ff2e"/>
<rect x="0" y="312" width="1228" height="3" fill="#00ff2e"/>
<line x1="80.8" y1="648.4" x2="1111.8" y2="234.2" stroke="#000" stroke-width="3" stroke-linecap="round"/>
<line x1="254.8" y1="442.5" x2="1126.7" y2="241.4" stroke="#000" stroke-width="3" stroke-linecap="round"/>
</g>
<rect x="1228" y="42" width="1" height="687" fill="#50535e"/>
<rect x="0" y="701" width="1308" height="1" fill="#50535e"/>
<rect x="0" y="729" width="1308" height="1" fill="#e0e3eb"/>
<text x="1236.5" y="69.3" font-family="Liberation Sans, sans-serif" font-size="12.2" fill="#50535e" textLength="60.3" lengthAdjust="spacingAndGlyphs">2700000.00</text>
<text x="1236.5" y="127.3" font-family="Liberation Sans, sans-serif" font-size="12.2" fill="#50535e" textLength="60.3" lengthAdjust="spacingAndGlyphs">2500000.00</text>
<text x="1236.5" y="157.3" font-family="Liberation Sans, sans-serif" font-size="12.2" fill="#50535e" textLength="60.3" lengthAdjust="spacingAndGlyphs">2400000.00</text>
<text x="1236.5" y="189.3" font-family="Liberation Sans, sans-serif" font-size="12.2" fill="#50535e" textLength="60.3" lengthAdjust="spacingAndGlyphs">2300000.00</text>
<text x="1236.5" y="257.3" font-family="Liberation Sans, sans-serif" font-size="12.2" fill="#50535e" textLength="60.3" lengthAdjust="spacingAndGlyphs">2100000.00</text>
<text x="1236.5" y="294.3" font-family="Liberation Sans, sans-serif" font-size="12.2" fill="#50535e" textLength="60.3" lengthAdjust="spacingAndGlyphs">2000000.00</text>
<text x="1236.5" y="357.3" font-family="Liberation Sans, sans-serif" font-size="12.2" fill="#50535e" textLength="60.3" lengthAdjust="spacingAndGlyphs">1840000.00</text>
<text x="1236.5" y="390.3" font-family="Liberation Sans, sans-serif" font-size="12.2" fill="#50535e" textLength="60.3" lengthAdjust="spacingAndGlyphs">1760000.00</text>
<text x="1236.5" y="425.3" font-family="Liberation Sans, sans-serif" font-size="12.2" fill="#50535e" textLength="60.3" lengthAdjust="spacingAndGlyphs">1680000.00</text>
<text x="1236.5" y="459.3" font-family="Liberation Sans, sans-serif" font-size="12.2" fill="#50535e" textLength="60.3" lengthAdjust="spacingAndGlyphs">1605000.00</text>
<text x="1236.5" y="495.3" font-family="Liberation Sans, sans-serif" font-size="12.2" fill="#50535e" textLength="60.3" lengthAdjust="spacingAndGlyphs">1530000.00</text>
<text x="1236.5" y="536.3" font-family="Liberation Sans, sans-serif" font-size="12.2" fill="#50535e" textLength="60.3" lengthAdjust="spacingAndGlyphs">1450000.00</text>
<text x="1236.5" y="567.3" font-family="Liberation Sans, sans-serif" font-size="12.2" fill="#50535e" textLength="60.3" lengthAdjust="spacingAndGlyphs">1390000.00</text>
<text x="1236.5" y="600.3" font-family="Liberation Sans, sans-serif" font-size="12.2" fill="#50535e" textLength="60.3" lengthAdjust="spacingAndGlyphs">1330000.00</text>
<text x="1236.5" y="635.3" font-family="Liberation Sans, sans-serif" font-size="12.2" fill="#50535e" textLength="60.3" lengthAdjust="spacingAndGlyphs">1270000.00</text>
<text x="1236.5" y="665.3" font-family="Liberation Sans, sans-serif" font-size="12.2" fill="#50535e" textLength="60.3" lengthAdjust="spacingAndGlyphs">1220000.00</text>
<text x="1236.5" y="695.3" font-family="Liberation Sans, sans-serif" font-size="12.2" fill="#50535e" textLength="60.3" lengthAdjust="spacingAndGlyphs">1172000.00</text>
<path d="M1228 207 H1300 a3 3 0 0 1 3 3 V221 a3 3 0 0 1 -3 3 H1228 Z" fill="#ff0000"/><text x="1236.3" y="219.8" font-family="Liberation Sans, sans-serif" font-size="12.4" fill="#ffffff" stroke="#ffffff" stroke-width="0.35" textLength="60.6" lengthAdjust="spacingAndGlyphs">2209156.98</text>
<path d="M1228 230 H1300 a3 3 0 0 1 3 3 V244 a3 3 0 0 1 -3 3 H1228 Z" fill="#ff0000"/><text x="1236.3" y="242.7" font-family="Liberation Sans, sans-serif" font-size="12.4" fill="#ffffff" stroke="#ffffff" stroke-width="0.35" textLength="60.6" lengthAdjust="spacingAndGlyphs">2142809.85</text>
<path d="M1228 257 H1300 a3 3 0 0 1 3 3 V271 a3 3 0 0 1 -3 3 H1228 Z" fill="#ff4242"/><text x="1236.3" y="269.8" font-family="Liberation Sans, sans-serif" font-size="12.4" fill="#ffffff" stroke="#ffffff" stroke-width="0.35" textLength="60.6" lengthAdjust="spacingAndGlyphs">2067165.35</text>
<path d="M1228 293 H1300 a3 3 0 0 1 3 3 V324 a3 3 0 0 1 -3 3 H1228 Z" fill="#00ff2e"/><text x="1236.3" y="0" font-family="Liberation Sans, sans-serif" font-size="12.4" fill="#000000" stroke="#000000" stroke-width="0.35" textLength="60.6" lengthAdjust="spacingAndGlyphs"></text>
<text x="1236.3" y="305.9" font-family="Liberation Sans, sans-serif" font-size="12.4" fill="#000" stroke="#000" stroke-width="0.2" textLength="60.6" lengthAdjust="spacingAndGlyphs">1970727.59</text>
<text x="1236.3" y="322.7" font-family="Liberation Sans, sans-serif" font-size="12.4" fill="#000" stroke="#000" stroke-width="0.2" textLength="60.6" lengthAdjust="spacingAndGlyphs">1938276.89</text>
<text x="101.5" y="719" font-family="Liberation Sans, sans-serif" text-anchor="middle" font-size="11.5" fill="#50535e">Nov</text>
<text x="210.5" y="719" font-family="Liberation Sans, sans-serif" text-anchor="middle" font-size="11.5" fill="#50535e">Dec</text>
<text x="309.5" y="719" font-family="Liberation Sans, sans-serif" text-anchor="middle" font-size="12.4" fill="#2a2e39" stroke="#2a2e39" stroke-width="0.25">2023</text>
<text x="418.5" y="719" font-family="Liberation Sans, sans-serif" text-anchor="middle" font-size="11.5" fill="#50535e">Feb</text>
<text x="502.5" y="719" font-family="Liberation Sans, sans-serif" text-anchor="middle" font-size="11.5" fill="#50535e">Mar</text>
<text x="587.5" y="719" font-family="Liberation Sans, sans-serif" text-anchor="middle" font-size="11.5" fill="#50535e">Apr</text>
<text x="671.5" y="719" font-family="Liberation Sans, sans-serif" text-anchor="middle" font-size="11.5" fill="#50535e">May</text>
<text x="780.5" y="719" font-family="Liberation Sans, sans-serif" text-anchor="middle" font-size="11.5" fill="#50535e">Jun</text>
<text x="869.5" y="719" font-family="Liberation Sans, sans-serif" text-anchor="middle" font-size="11.5" fill="#50535e">Jul</text>
<text x="983.5" y="719" font-family="Liberation Sans, sans-serif" text-anchor="middle" font-size="11.5" fill="#50535e">Aug</text>
<text x="1087.5" y="719" font-family="Liberation Sans, sans-serif" text-anchor="middle" font-size="11.5" fill="#50535e">Sep</text>
<text x="1176.5" y="719" font-family="Liberation Sans, sans-serif" text-anchor="middle" font-size="11.5" fill="#50535e">Oct</text>
<polygon points="1276.0,716.0 1272.5,722.1 1265.5,722.1 1262.0,716.0 1265.5,709.9 1272.5,709.9" fill="none" stroke="#131722" stroke-width="1.1"/>
<circle cx="1269" cy="716" r="2.2" fill="none" stroke="#131722" stroke-width="1.1"/>
<circle cx="26.6" cy="671.9" r="16.6" fill="#fff" stroke="#e0e3eb" stroke-width="1.1"/>
<path d="M16 667 H25 V678 H21 V671 H16 Z" fill="#131722"/>
<circle cx="27.9" cy="669" r="1.7" fill="#131722"/>
<path d="M32.5 667 H37.3 L32.9 678 H28.1 Z" fill="#131722"/>
</svg>
<svg width="1308" height="42" style="position:absolute;left:0;top:0">
<rect x="0" y="38" width="1308" height="4" fill="#e0e3eb"/>
<rect x="30" y="8" width="1" height="22" fill="#e0e3eb"/>
<rect x="77" y="8" width="1" height="22" fill="#e0e3eb"/>
<rect x="231" y="8" width="1" height="22" fill="#e0e3eb"/>
<rect x="280" y="8" width="1" height="22" fill="#e0e3eb"/>
<rect x="957" y="8" width="1" height="22" fill="#e0e3eb"/>
<rect x="1004" y="8" width="1" height="22" fill="#e0e3eb"/>
<rect x="1050" y="8" width="1" height="22" fill="#e0e3eb"/>
<rect x="1096" y="8" width="1" height="22" fill="#e0e3eb"/>
<rect x="1145" y="8" width="1" height="22" fill="#e0e3eb"/>
<rect x="1255" y="8" width="1" height="22" fill="#e0e3eb"/>
<path d="M50.5 9 V12 M50.5 25 V29 M48.5 12.5 h4 v12 h-4 z M58.5 12 V15 M58.5 22 V26 M56.5 15.5 h4 v6 h-4 z" fill="none" stroke="#131722" stroke-width="1"/>
<path d="M104.8 11.9 C103.6 10.2 99.6 10.2 99.6 13.6 V23.4 C99.6 26.6 95.6 27.1 94 25.1 M96 16.6 H103" fill="none" stroke="#131722" stroke-width="1" stroke-width="1.2"/>
<path d="M102 22 l5 5 M107 22 l-5 5" fill="none" stroke="#131722" stroke-width="1" stroke-width="1.5"/>
<rect x="200.5" y="11.5" width="6" height="6" rx="1.5" fill="none" stroke="#131722" stroke-width="1" stroke-width="1.1"/>
<rect x="209.5" y="11.5" width="6" height="6" rx="1.5" fill="none" stroke="#131722" stroke-width="1" stroke-width="1.1"/>
<rect x="200.5" y="20.5" width="6" height="6" rx="1.5" fill="none" stroke="#131722" stroke-width="1" stroke-width="1.1"/>
<rect x="209.5" y="20.5" width="6" height="6" rx="1.5" fill="none" stroke="#131722" stroke-width="1" stroke-width="1.1"/>
<path d="M246.7 19 C249.7 10.8 262.3 10.8 265.3 19 C262.3 27.2 249.7 27.2 246.7 19 Z" fill="none" stroke="#131722" stroke-width="1" stroke-width="1.35"/>
<circle cx="256" cy="19" r="2.9" fill="#131722"/>
<path d="M301 14.5 l-3.5 3.5 l3.5 3.5 M297.5 18 H305 a4.5 4.5 0 0 1 4.5 4.5 V24" fill="none" stroke="#b2b5be" stroke-width="1"/>
<path d="M344 14.5 l3.5 3.5 l-3.5 3.5 M347.5 18 H340 a4.5 4.5 0 0 0 -4.5 4.5 V24" fill="none" stroke="#b2b5be" stroke-width="1"/>
<path d="M939 17 l4 4 l4 -4" fill="none" stroke="#131722" stroke-width="1" stroke-width="1.1"/>
<polygon points="979.16,12.35 979.31,9.86 982.69,9.86 982.84,12.35 983.70,12.49 984.40,12.99 986.27,11.34 988.66,13.73 987.01,15.60 987.51,16.30 987.65,17.16 990.14,17.31 990.14,20.69 987.65,20.84 987.51,21.70 987.01,22.40 988.66,24.27 986.27,26.66 984.40,25.01 983.70,25.51 982.84,25.65 982.69,28.14 979.31,28.14 979.16,25.65 978.30,25.51 977.60,25.01 975.73,26.66 973.34,24.27 974.99,22.40 974.49,21.70 974.35,20.84 971.86,20.69 971.86,17.31 974.35,17.16 974.49,16.30 974.99,15.60 973.34,13.73 975.73,11.34 977.60,12.99 978.30,12.49" fill="none" stroke="#131722" stroke-width="1" stroke-width="1.15" stroke-linejoin="round"/>
<circle cx="981" cy="19" r="2.6" fill="none" stroke="#131722" stroke-width="1" stroke-width="1.15"/>
<path d="M1024.2 11.6 A7.7 7.7 0 1 0 1033.5 23.5 A9.5 9.5 0 0 1 1024.2 11.6 Z" fill="none" stroke="#131722" stroke-width="1" stroke-width="1.1" stroke-linejoin="round"/>
<circle cx="1076.5" cy="12.8" r="2.5" fill="none" stroke="#131722" stroke-width="1"/><circle cx="1076.5" cy="25.2" r="2.5" fill="none" stroke="#131722" stroke-width="1"/><circle cx="1065.3" cy="19" r="2.5" fill="none" stroke="#131722" stroke-width="1"/>
<path d="M1067.5 17.8 L1074.3 14 M1067.5 20.2 L1074.3 24" fill="none" stroke="#131722" stroke-width="1"/>
<path d="M1124 13.6 Q1119 13.8 1113.5 13.5 L1112.5 25.5 L1116.4 25.6 M1125.5 25.5 L1129.5 25.5 L1128.6 13.5" fill="none" stroke="#131722" stroke-width="1" stroke-width="1.1"/>
<path d="M1115.7 14.6 Q1120 15.2 1123.3 15 L1124.3 11.9 Q1126 11 1127.6 11.9 L1128.6 13.5 M1115.7 14.6 L1116.6 26.3 L1125.4 26.3 L1125.5 25.5" fill="none" stroke="#131722" stroke-width="1" stroke-width="1.1"/>
<rect x="1160.5" y="12.5" width="12" height="12" rx="2" fill="none" stroke="#131722" stroke-width="1"/>
<path d="M1276.5 15.6 V11.5 H1280.6 M1287.3 11.5 H1291.5 V15.6 M1276.5 22.3 V26.5 H1280.6 M1287.3 26.5 H1291.5 V22.3" fill="none" stroke="#131722" stroke-width="1" stroke-width="1.5"/>
<path d="M1277 12 L1281.6 16.6 M1291 12 L1286.4 16.6 M1277 26 L1281.6 21.4 M1291 26 L1286.4 21.4" fill="none" stroke="#131722" stroke-width="1" stroke-width="1.1"/>
</svg>
<svg width="1308" height="38" style="position:absolute;left:0;top:730px">
<rect x="187" y="8" width="1" height="22" fill="#e0e3eb"/>
<rect x="1202" y="8" width="1" height="22" fill="#e0e3eb"/>
<circle cx="1216.3" cy="15.4" r="1.75" fill="none" stroke="#131722" stroke-width="1.2"/><circle cx="1224" cy="22.5" r="1.75" fill="none" stroke="#131722" stroke-width="1.2"/><path d="M1223.2 13.2 L1217.2 24.6" stroke="#131722" stroke-width="1.3"/>
<path d="M201.8 18.2 V14.5 Q201.8 13.2 203.2 13.2 H218.3 Q219.6 13.2 219.6 14.5 V26.5 H211 M207.3 9.5 V13.2 M216.5 9.5 V13.2 M201.3 24.5 H208.3 M205.8 22 L208.3 24.5 L205.8 27" fill="none" stroke="#131722" stroke-width="1" stroke-width="1.1"/>
</svg>
<div class="t" style="left:3.4px;top:11.6px;font-size:13.2px;">D</div>
<div class="t" style="left:117.5px;top:10.8px;font-size:14.2px;letter-spacing:0.1px;">Indicators</div>
<div class="t" style="left:868px;top:10.7px;font-size:14px;letter-spacing:-0.2px;">AutoSave</div>
<div class="t" style="left:1182px;top:10.7px;font-size:14px;letter-spacing:-0.2px;">AutoSave</div>
<div class="t" dir="rtl" style="left:7px;width:58px;text-align:left;top:52.3px;font-size:15px;color:#50535e;unicode-bidi:isolate;">کل بورس</div>
<div class="t" style="left:69.5px;top:51.5px;font-size:14.4px;color:#50535e;">·</div>
<div class="t" style="left:79px;top:52px;font-size:14.4px;color:#50535e;">1D</div>
<div class="t" style="left:105.5px;top:52.4px;font-size:13px;color:#50535e;">O</div>
<div class="t" style="left:115.4px;top:52.4px;font-size:13px;color:#fe3f3f;">2084264.93</div>
<div class="t" style="left:191px;top:52.4px;font-size:13px;color:#50535e;">H</div>
<div class="t" style="left:200.9px;top:52.4px;font-size:13px;color:#fe3f3f;">2084264.93</div>
<div class="t" style="left:276px;top:52.4px;font-size:13px;color:#50535e;">L</div>
<div class="t" style="left:284.4px;top:52.4px;font-size:13px;color:#fe3f3f;">2067159.89</div>
<div class="t" style="left:359.5px;top:52.4px;font-size:13px;color:#50535e;">C</div>
<div class="t" style="left:369.5px;top:52.4px;font-size:13px;color:#fe3f3f;">2067165.35</div>
<div class="t" style="left:444.5px;top:52.4px;font-size:13px;color:#fe3f3f;">−17369.45</div>
<div class="t" style="left:510.5px;top:52.4px;font-size:13px;color:#fe3f3f;">(−0.83%)</div>
<div style="position:absolute;left:7px;top:75px;width:32px;height:21px;border:1px solid #e0e3eb;border-radius:4px;box-sizing:border-box;"></div>
<svg style="position:absolute;left:13px;top:82px" width="9" height="7"><path d="M1 1.5 l3.5 3.5 l3.5 -3.5" fill="none" stroke="#131722" stroke-width="1.3"/></svg>
<div class="t" style="left:27px;top:78px;font-size:13px;color:#3a3e4a;">3</div>
<div class="t" style="left:12px;top:742px;font-size:13px;">5y</div>
<div class="t" style="left:39px;top:742px;font-size:13px;">1y</div>
<div class="t" style="left:65px;top:742px;font-size:13px;">6m</div>
<div class="t" style="left:98px;top:742px;font-size:13px;">3m</div>
<div class="t" style="left:130px;top:742px;font-size:13px;">1m</div>
<div class="t" style="left:162px;top:742px;font-size:13px;">5d</div>
<div class="t" style="left:1069px;top:742.3px;font-size:12.7px;">۱۵:۰۶:۵۱</div>
<div class="t" style="left:1119px;top:741.5px;font-size:14px;">(UTC+3:30)</div>
<div class="t" style="left:1239px;top:741px;font-size:14px;color:#2962ff;">log</div>
<div class="t" style="left:1270px;top:741px;font-size:14px;color:#2962ff;">auto</div>
</body></html>
